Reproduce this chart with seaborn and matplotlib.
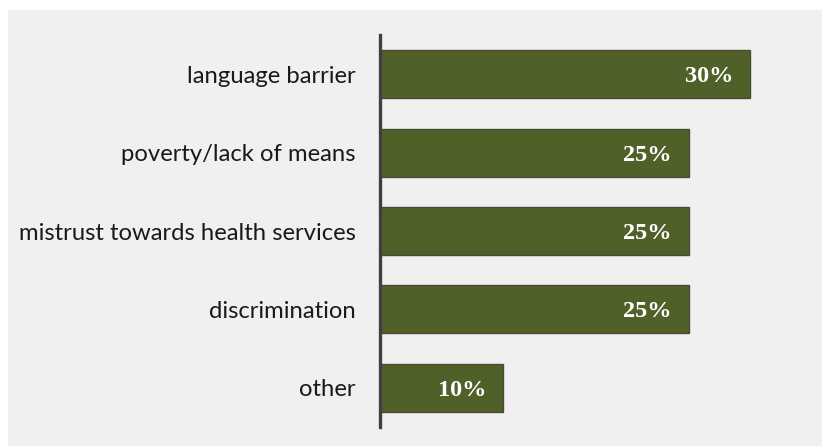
import matplotlib
matplotlib.use("Agg")
import matplotlib.pyplot as plt
from matplotlib.patches import Rectangle
import seaborn as sns
import pandas as pd

categories = ["language barrier", "poverty/lack of means",
              "mistrust towards health services", "discrimination", "other"]
values = [30, 25, 25, 25, 10]
value_labels = ["30%", "25%", "25%", "25%", "10%"]

df = pd.DataFrame({"category": categories, "value": values})

sns.set_theme(style="white")
plt.rcParams["font.family"] = ["Lato", "DejaVu Sans"]

W, H = 822, 446
fig = plt.figure(figsize=(W / 100, H / 100), dpi=100, facecolor="white")
fig.patches.append(Rectangle((8 / W, 0), (W - 8) / W, (H - 10) / H,
                             transform=fig.transFigure, facecolor="#f0f0f0",
                             edgecolor="none", zorder=-10))

left, right = 380, 812
top, bottom = 35, 427
ax = fig.add_axes([left / W, 1 - bottom / H, (right - left) / W, (bottom - top) / H])
ax.set_zorder(5)
ax.set_facecolor("none")

sns.barplot(data=df, y="category", x="value", orient="h", ax=ax,
            color="#4f6128", saturation=1, width=0.61,
            edgecolor="#4a4a36", linewidth=1.0)

ax.set_xlim(0, 35)
ax.set_ylim(4.5, -0.5)
ax.set_xlabel("")
ax.set_ylabel("")
ax.set_xticks([])
for s in ["top", "right", "bottom"]:
    ax.spines[s].set_visible(False)
ax.spines["left"].set_color("#404040")
ax.spines["left"].set_linewidth(2.4)
ax.tick_params(axis="y", length=0, pad=17.5, labelsize=17.2, labelcolor="#1a1a1a")

for i, (v, lab) in enumerate(zip(values, value_labels)):
    ax.annotate(lab, xy=(v, i), xytext=(-12, 0), textcoords="offset points",
                ha="right", va="center_baseline", color="white", fontsize=17.5,
                fontweight="bold", family=["Liberation Serif", "DejaVu Serif"])

fig.savefig("out.png", dpi=100, facecolor="white")
